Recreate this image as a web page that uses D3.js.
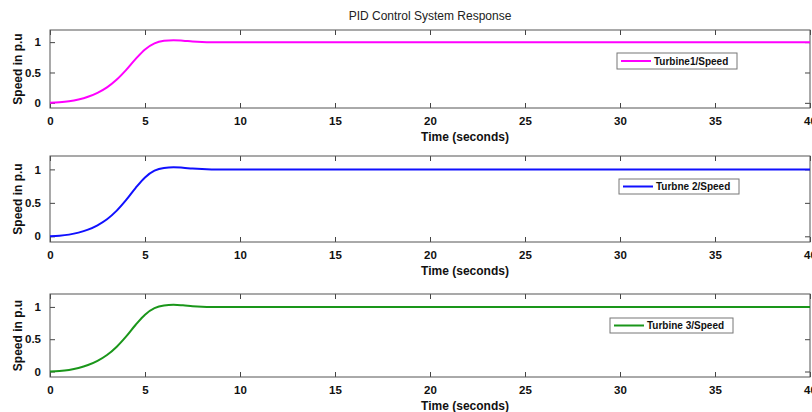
<!DOCTYPE html>
<html>
<head>
<meta charset="utf-8">
<script src="https://cdn.jsdelivr.net/npm/d3@7"></script>
<style>
  body { margin: 0; background: #fff; }
  svg { font-family: "Liberation Sans", Arial, sans-serif; }
</style>
</head>
<body>
<svg width="812" height="412"></svg>
<script>
// time axis (seconds) and response values
const time = [0, 0.5, 1, 1.5, 2, 2.5, 3, 3.5, 4, 4.5, 5, 5.5, 6, 6.5, 7, 7.5, 8, 8.5, 9, 10, 15, 20, 25, 30, 35, 40];
const turbine1 = [0, 0.008, 0.025, 0.055, 0.1, 0.165, 0.255, 0.38, 0.54, 0.72, 0.88, 0.98, 1.022, 1.032, 1.024, 1.012, 1.004, 1.0, 0.999, 1, 1, 1, 1, 1, 1, 1];
const turbine2 = [0, 0.008, 0.025, 0.055, 0.1, 0.165, 0.255, 0.38, 0.54, 0.72, 0.88, 0.98, 1.022, 1.032, 1.024, 1.012, 1.004, 1.0, 0.999, 1, 1, 1, 1, 1, 1, 1];
const turbine3 = [0, 0.008, 0.025, 0.055, 0.1, 0.165, 0.255, 0.38, 0.54, 0.72, 0.88, 0.98, 1.022, 1.032, 1.024, 1.012, 1.004, 1.0, 0.999, 1, 1, 1, 1, 1, 1, 1];
const seriesNames = ["Turbine1/Speed", "Turbne 2/Speed", "Turbine 3/Speed"];
const xTicks = [0, 5, 10, 15, 20, 25, 30, 35, 40];
const yTicks = [0, 0.5, 1];

const svg = d3.select("svg");
const left = 50, right = 810;

const panels = [
  { values: turbine1, name: seriesNames[0], color: "#ff00ff", top: 30, bottom: 108, legend: [617, 53, 120, 16] },
  { values: turbine2, name: seriesNames[1], color: "#1010ff", top: 156, bottom: 242, legend: [619, 179, 120, 15] },
  { values: turbine3, name: seriesNames[2], color: "#1a961a", top: 294, bottom: 377, legend: [610, 318, 123, 15] }
];

svg.append("text")
  .attr("x", 430).attr("y", 20)
  .attr("text-anchor", "middle")
  .attr("font-size", 12)
  .attr("fill", "#222")
  .text("PID Control System Response");

const x = d3.scaleLinear().domain([0, 40]).range([left, right]);

panels.forEach(p => {
  const y = d3.scaleLinear().domain([-0.085, 1.2]).range([p.bottom, p.top]);
  const g = svg.append("g");

  // inner ticks on all four sides, like a boxed MATLAB axes
  const axStyle = sel => {
    sel.select(".domain").remove();
    sel.selectAll("line").attr("stroke", "#444");
    sel.selectAll("text").attr("font-weight", "bold").attr("fill", "#111").attr("font-size", 11.5);
  };

  g.append("g").attr("transform", `translate(0,${p.bottom})`)
    .call(d3.axisBottom(x).tickValues(xTicks).tickSizeInner(-5).tickSizeOuter(0).tickPadding(9))
    .call(axStyle);
  g.append("g").attr("transform", `translate(0,${p.top})`)
    .call(d3.axisTop(x).tickValues(xTicks).tickSizeInner(-5).tickSizeOuter(0).tickFormat(""))
    .call(axStyle);
  g.append("g").attr("transform", `translate(${left},0)`)
    .call(d3.axisLeft(y).tickValues(yTicks).tickSizeInner(-5).tickSizeOuter(0).tickPadding(9).tickFormat(d3.format("~g")))
    .call(axStyle);
  g.append("g").attr("transform", `translate(${right},0)`)
    .call(d3.axisRight(y).tickValues(yTicks).tickSizeInner(-5).tickSizeOuter(0).tickFormat(""))
    .call(axStyle);

  g.append("rect")
    .attr("x", left).attr("y", p.top)
    .attr("width", right - left).attr("height", p.bottom - p.top)
    .attr("fill", "none").attr("stroke", "#555").attr("stroke-width", 1);

  const line = d3.line()
    .x((d, i) => x(time[i]))
    .y(d => y(d))
    .curve(d3.curveMonotoneX);

  g.append("path")
    .datum(p.values)
    .attr("d", line)
    .attr("fill", "none")
    .attr("stroke", p.color)
    .attr("stroke-width", 2);

  // legend
  const [lx, ly, lw, lh] = p.legend;
  const lg = g.append("g").attr("transform", `translate(${lx},${ly})`);
  lg.append("rect").attr("width", lw).attr("height", lh)
    .attr("fill", "#fff").attr("stroke", "#777");
  lg.append("line").attr("x1", 4).attr("x2", 34)
    .attr("y1", lh / 2).attr("y2", lh / 2)
    .attr("stroke", p.color).attr("stroke-width", 2);
  lg.append("text").attr("x", 37).attr("y", lh / 2 + 3.5)
    .attr("font-size", 10).attr("font-weight", "bold").attr("fill", "#111")
    .text(p.name);

  svg.append("text")
    .attr("x", (left + right) / 2 + 35).attr("y", p.bottom + 33)
    .attr("text-anchor", "middle")
    .attr("font-size", 12).attr("font-weight", "bold").attr("fill", "#111")
    .text("Time (seconds)");

  svg.append("text")
    .attr("transform", `translate(22,${(p.top + p.bottom) / 2}) rotate(-90)`)
    .attr("text-anchor", "middle")
    .attr("font-size", 12).attr("font-weight", "bold").attr("fill", "#111")
    .text("Speed in p.u");
});
</script>
</body>
</html>
